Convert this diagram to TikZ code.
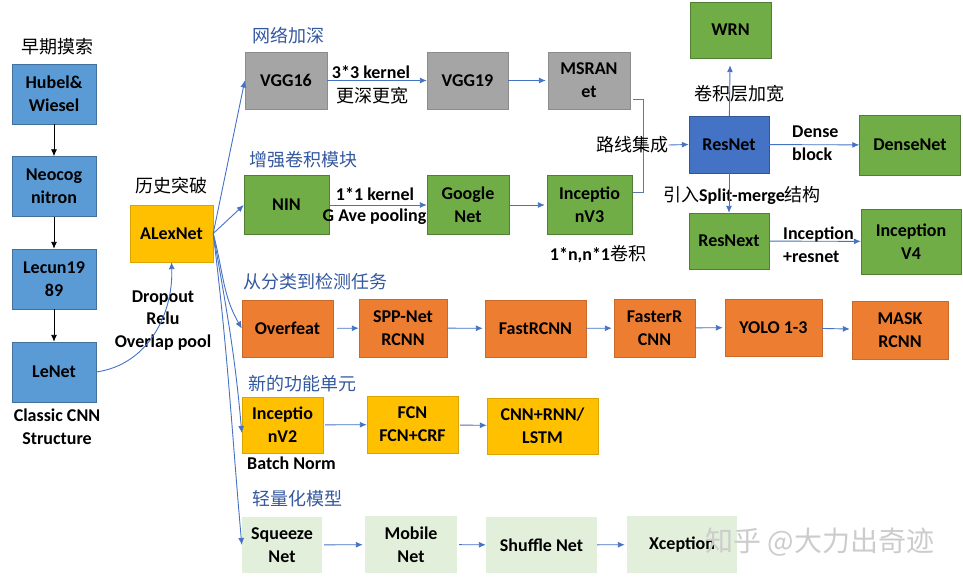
\documentclass[tikz,border=0pt]{standalone}
\usepackage{fontspec}
\setmainfont{Carlito}
\newfontfamily\cjk{Noto Sans CJK SC}
\usepackage{tikz}
\usetikzlibrary{arrows.meta}
\definecolor{cearly}{RGB}{91,155,213}
\definecolor{cearlyd}{RGB}{65,113,156}
\definecolor{cgold}{RGB}{255,192,0}
\definecolor{cgray}{RGB}{165,165,165}
\definecolor{cgreen}{RGB}{112,173,71}
\definecolor{cgreend}{RGB}{80,126,50}
\definecolor{cres}{RGB}{68,114,196}
\definecolor{corange}{RGB}{237,125,49}
\definecolor{clight}{RGB}{226,239,218}
\definecolor{carrow}{RGB}{68,114,196}
\definecolor{chead}{RGB}{52,88,160}
\newcommand\lblfont{\fontsize{18}{23}\selectfont\bfseries}
\newcommand\zh[1]{{\cjk\mdseries #1}}

\begin{document}
\begin{tikzpicture}[x=1pt,y=-1pt,
  box/.style={minimum width=82pt,minimum height=57pt,inner sep=1pt,align=center,font=\lblfont},
  early/.style={box,draw=cearlyd,fill=cearly,minimum width=84pt,minimum height=60pt},
  gold/.style={box,draw=cgold!85!black,fill=cgold},
  grey/.style={box,draw=cgray!85!black,fill=cgray},
  green/.style={box,draw=cgreend,fill=cgreen},
  res/.style={box,draw=cres!75!black,fill=cres},
  orange/.style={box,draw=corange!85!black,fill=corange},
  light/.style={box,fill=clight},
  txt/.style={inner sep=0pt,align=center,font=\lblfont},
  head/.style={inner sep=0pt,anchor=west,text=chead,font=\fontsize{18}{23}\selectfont\cjk},
  arr/.style={-{Latex[length=7pt,width=6pt]},draw=carrow,line width=0.9pt},
  darr/.style={-{Latex[length=7pt,width=6pt]},draw=black,line width=0.9pt},
  brk/.style={draw=carrow!60!gray,line width=0.8pt},
]
  \useasboundingbox (0,0) rectangle (963,580);

  % early exploration
  \node[txt] (early) at (57,47) {\zh{早期摸索}};
  \node[early] (hubel)  at (54,94)    {Hubel\&\\Wiesel};
  \node[early] (neocog) at (54,186.5) {Neocog\\nitron};
  \node[early] (lecun)  at (54,279)   {Lecun19\\89};
  \node[early] (lenet)  at (54,372)   {LeNet};
  \node[txt] (classic) at (57,426.5) {Classic CNN\\Structure};
  \draw[darr] (hubel) -- (neocog);
  \draw[darr] (neocog) -- (lecun);
  \draw[darr] (lecun) -- (lenet);

  % breakthrough
  \node[txt] (history) at (171,186) {\zh{历史突破}};
  \node[gold,minimum width=83pt] (alexnet) at (171.5,233.5) {ALexNet};
  \node[txt,font=\fontsize{18}{22.5}\selectfont\bfseries] (tricks) at (163,320.5) {Dropout\\Relu\\Overlap pool};
  \draw[arr] (lenet.east) to[out=8,in=-88] (alexnet.south);

  % deeper networks
  \node[head] (h1) at (252,36) {网络加深};
  \node[grey] (vgg16) at (286,80.5)   {VGG16};
  \node[grey,minimum width=81pt] (vgg19) at (467.5,80.5) {VGG19};
  \node[grey] (msra)  at (589,80.5)   {MSRAN\\et};
  \node[txt] (k33) at (371,72) {3*3 kernel};
  \node[txt] (deeper) at (372,96) {\zh{更深更宽}};
  \draw[arr] (vgg16) -- (vgg19);
  \draw[arr,shorten >=2pt] (vgg19) -- (msra);

  % stronger conv modules
  \node[head] (h2) at (249,160) {增强卷积模块};
  \node[green,minimum width=85pt,minimum height=59pt] (nin) at (286.5,205) {NIN};
  \node[green,minimum height=59pt] (google) at (468,205) {Google\\Net};
  \node[green,minimum width=85pt,minimum height=59pt] (incv3) at (589.5,205) {Inceptio\\nV3};
  \node[txt] (k11) at (375,194) {1*1 kernel};
  \node[txt] (gap) at (374.5,217) {G Ave pooling};
  \node[txt] (nxn) at (598,254) {1*n,n*1\zh{卷积}};
  \draw[arr] (nin) -- (google);
  \draw[arr,shorten >=2pt] (google) -- (incv3);

  % merging into resnet
  \draw[brk] (633,99) -- (643,99) -- (643,192) -- (633,192);
  \node[txt] (route) at (632.5,145) {\zh{路线集成}};
  \node[res,minimum width=80pt] (resnet) at (729,144.5) {ResNet};
  \node[green,minimum width=81pt,minimum height=56pt] (wrn) at (730.5,30) {WRN};
  \node[green,minimum width=101pt,minimum height=60pt] (densenet) at (910,145) {DenseNet};
  \node[green,minimum width=80pt,minimum height=56pt] (resnext) at (729,241) {ResNext};
  \node[green,minimum width=100pt,minimum height=65pt] (incv4) at (911,241.5) {Inception\\V4};
  \node[txt] (widen) at (739,94) {\zh{卷积层加宽}};
  \node[txt,anchor=west,align=left] (dense) at (792,143) {Dense\\block};
  \node[txt] (split) at (742,195) {\zh{引入}Split-merge\zh{结构}};
  \node[txt,anchor=west,align=left] (incres) at (783,244.5) {Inception\\+resnet};
  \draw[arr] (route.east) -- (resnet.west);
  \draw[arr,shorten >=7pt] (resnet) -- (wrn);
  \draw[arr] (resnet) -- (densenet);
  \draw[arr] (resnet) -- (resnext);
  \draw[arr] (resnext) -- (incv4);

  % detection
  \node[head] (h3) at (243,282) {从分类到检测任务};
  \node[orange,minimum width=91pt] (overfeat) at (287.5,328.5) {Overfeat};
  \node[orange,minimum width=88pt,minimum height=58pt] (spp) at (403,328) {SPP-Net\\RCNN};
  \node[orange,minimum width=101pt] (fast) at (535.5,328.5) {FastRCNN};
  \node[orange,minimum width=81pt,minimum height=58pt] (faster) at (654.5,328) {FasterR\\CNN};
  \node[orange,minimum width=97pt] (yolo) at (773.5,327.5) {YOLO 1-3};
  \node[orange,minimum width=96pt,minimum height=58pt] (mask) at (900,330) {MASK\\RCNN};
  \draw[arr,shorten <=4pt] (overfeat) -- (spp);
  \draw[arr,shorten >=2pt] (spp) -- (fast);
  \draw[arr,shorten >=2pt] (fast) -- (faster);
  \draw[arr,shorten >=2pt] (faster) -- (yolo);
  \draw[arr,shorten >=2pt] (yolo) -- (mask);

  % new units
  \node[head] (h4) at (248,384) {新的功能单元};
  \node[gold,minimum width=81pt,minimum height=56pt] (incv2) at (282.5,425) {Inceptio\\nV2};
  \node[gold,minimum width=91pt] (fcn) at (412.5,424.5) {FCN\\FCN+CRF};
  \node[gold,minimum width=111pt,minimum height=56pt] (cnnrnn) at (542.5,426) {CNN+RNN/\\LSTM};
  \node[txt,anchor=west] (bn) at (247,463) {Batch Norm};
  \draw[arr,shorten <=2pt] (incv2) -- (fcn);
  \draw[arr,shorten <=2pt] (fcn) -- (cnnrnn);

  % lightweight
  \node[head] (h5) at (252,499) {轻量化模型};
  \node[light,minimum width=80pt,minimum height=56pt] (squeeze) at (282,545) {Squeeze\\Net};
  \node[light,minimum width=92pt] (mobile) at (411,544.5) {Mobile\\Net};
  \node[light,minimum width=111pt,minimum height=56pt] (shuffle) at (541.5,545) {Shuffle Net};
  \node[light,minimum width=110pt] (xception) at (682,544.5) {Xception};
  \draw[arr,shorten <=2pt,shorten >=2pt] (squeeze) -- (mobile);
  \draw[arr,shorten <=2pt] (mobile) -- (shuffle);
  \draw[arr,shorten >=2pt] (shuffle) -- (xception);

  % fan out of alexnet
  \draw[arr] (alexnet.east) -- (vgg16.west);
  \draw[arr] (alexnet.east) -- (nin.west);
  \draw[arr] (alexnet.east) to[out=-75,in=120] (overfeat.west);
  \draw[arr] (alexnet.east) to[out=-80,in=95] ([yshift=-8pt]incv2.west);
  \draw[arr] (alexnet.east) to[out=-83,in=95] (squeeze.west);

  \node[inner sep=0pt,text=gray!40,font=\fontsize{28}{30}\selectfont\cjk] (mark) at (820,542) {知乎 @大力出奇迹};
\end{tikzpicture}
\end{document}
